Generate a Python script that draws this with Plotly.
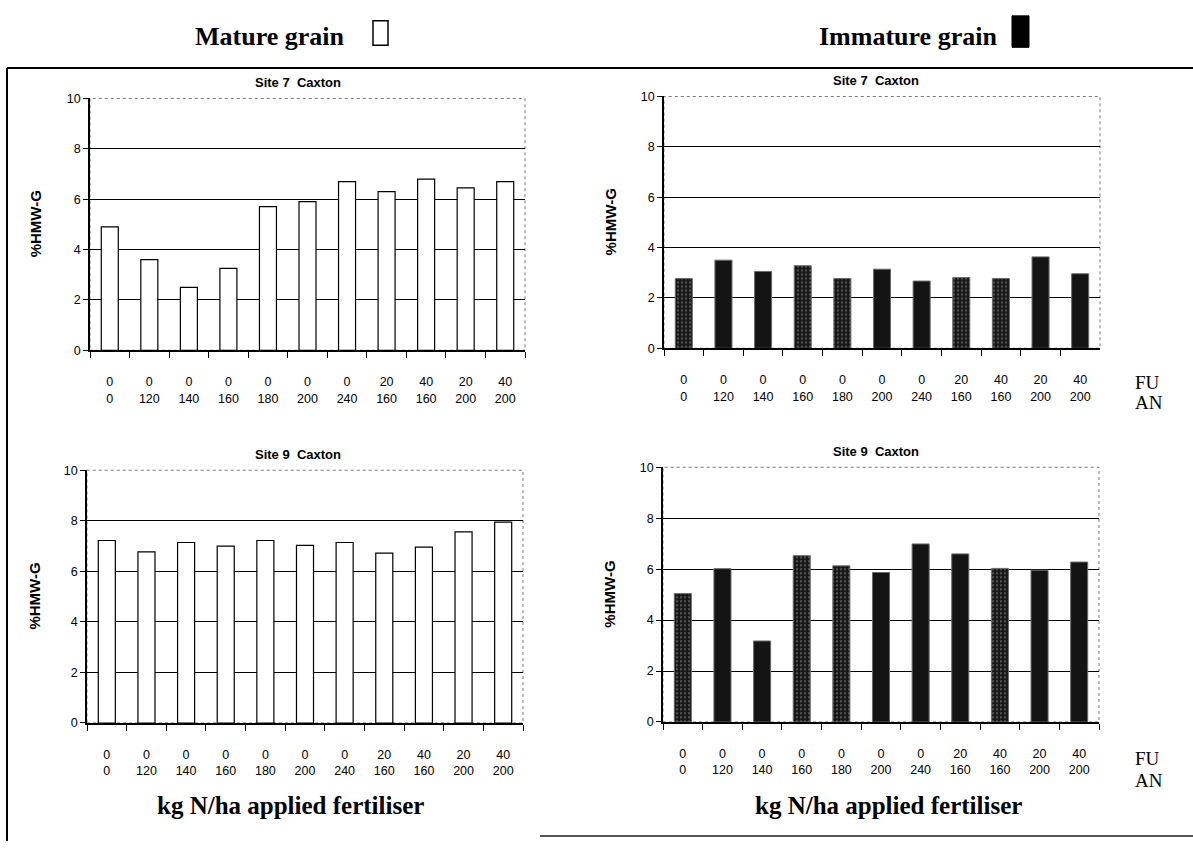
import plotly.graph_objects as go

# ---------------- data ----------------
FU = ["0", "0", "0", "0", "0", "0", "0", "20", "40", "20", "40"]
AN = ["0", "120", "140", "160", "180", "200", "240", "160", "160", "200", "200"]
CATS = [f"{f}/{a}" for f, a in zip(FU, AN)]

MATURE_SITE7 = [4.9, 3.6, 2.5, 3.25, 5.7, 5.9, 6.7, 6.3, 6.8, 6.45, 6.7]
IMMATURE_SITE7 = [2.77, 3.5, 3.05, 3.28, 2.77, 3.14, 2.67, 2.81, 2.77, 3.63, 2.96]
MATURE_SITE9 = [7.22, 6.77, 7.14, 7.0, 7.22, 7.03, 7.14, 6.72, 6.96, 7.56, 7.95]
IMMATURE_SITE9 = [5.04, 6.02, 3.18, 6.53, 6.13, 5.87, 6.99, 6.6, 6.03, 5.96, 6.28]

Y_TICKS = [0, 2, 4, 6, 8, 10]
GRID_VALS = [2, 4, 6, 8]

# speckled (grey) vs solid black appearance of the immature bars
SPECKLE_SITE7 = [True, False, False, True, True, False, False, True, True, False, False]
SPECKLE_SITE9 = [True, False, False, True, True, False, False, False, True, False, False]

W, H = 1193, 848
SANS = "Liberation Sans, Arial, sans-serif"
SERIF = "Liberation Serif, Times New Roman, serif"


def px(x):
    return x / W


def py(y):
    return 1 - y / H


# panel boxes in pixels: left, right, top, bottom
PANELS = {
    1: (90, 525, 93, 349),
    2: (664, 1100, 91, 347),
    3: (87, 523, 471, 728),
    4: (663, 1099, 468, 727),
}
TITLE_X = {1: 298, 2: 876, 3: 298, 4: 876}

fig = go.Figure()

panel_defs = [
    (1, MATURE_SITE7, False, None, "Site 7  Caxton"),
    (2, IMMATURE_SITE7, True, SPECKLE_SITE7, "Site 7  Caxton"),
    (3, MATURE_SITE9, False, None, "Site 9  Caxton"),
    (4, IMMATURE_SITE9, True, SPECKLE_SITE9, "Site 9  Caxton"),
]

annotations = []
shapes = []
TICKFONT = dict(family=SANS, size=12.5, color="black")

for idx, vals, immature, speck, title in panel_defs:
    xa = "x" if idx == 1 else f"x{idx}"
    ya = "y" if idx == 1 else f"y{idx}"
    ov = f"x{idx + 4}"
    if immature:
        marker = dict(
            color="#141414",
            line=dict(color="#6a6a6a", width=1),
            pattern=dict(
                shape=["." if s else "" for s in speck],
                fgcolor="#8c8c8c",
                bgcolor="#141414",
                size=4,
                solidity=0.3,
            ),
        )
    else:
        marker = dict(color="white", line=dict(color="black", width=1.2))
    fig.add_trace(go.Bar(x=CATS, y=vals, xaxis=xa, yaxis=ya, marker=marker,
                         showlegend=False, hoverinfo="skip"))
    # invisible trace carrying the second row (AN) of tick labels
    fig.add_trace(go.Scatter(x=CATS, y=vals, xaxis=ov, yaxis=ya, mode="none",
                             showlegend=False, hoverinfo="skip"))

    l, r, t, b = PANELS[idx]
    xkey = "xaxis" if idx == 1 else f"xaxis{idx}"
    ykey = "yaxis" if idx == 1 else f"yaxis{idx}"
    fig.update_layout({
        xkey: dict(
            domain=[px(l), px(r)], anchor=ya, type="category",
            categoryorder="array", categoryarray=CATS,
            range=[-0.5, len(CATS) - 0.5],
            tickvals=CATS, ticktext=FU, tickson="boundaries",
            ticks="outside", ticklen=6, tickcolor="black", tickwidth=1,
            showline=True, linecolor="black", linewidth=1.5,
            showgrid=False, zeroline=False,
            tickfont=TICKFONT, ticklabelstandoff=19,
        ),
        f"xaxis{idx + 4}": dict(
            overlaying=xa, anchor=ya, side="bottom", type="category",
            categoryorder="array", categoryarray=CATS,
            range=[-0.5, len(CATS) - 0.5],
            tickvals=CATS, ticktext=AN, ticks="", showline=False,
            showgrid=False, zeroline=False,
            tickfont=TICKFONT, ticklabelstandoff=39,
        ),
        ykey: dict(
            domain=[py(b), py(t)], anchor=xa, range=[0, 10],
            tickvals=Y_TICKS, ticks="outside", ticklen=5, tickcolor="black",
            showline=True, linecolor="black", linewidth=1.5,
            showgrid=False, zeroline=False,
            minor=dict(tickmode="array", tickvals=GRID_VALS, showgrid=True,
                       gridcolor="black", gridwidth=1, ticks=""),
            tickfont=TICKFONT,
        ),
    })
    # dotted plot-area border (top & right)
    shapes.append(dict(type="rect", xref=f"{xa} domain", yref=f"{ya} domain",
                       x0=0, x1=1, y0=0, y1=1, layer="below",
                       line=dict(color="#7a7a7a", width=1, dash="dot")))
    # panel title
    annotations.append(dict(text=f"<b>{title}</b>", x=px(TITLE_X[idx]),
                            y=py(t - 16), xref="paper", yref="paper",
                            showarrow=False, xanchor="center", yanchor="middle",
                            font=dict(family=SANS, size=13, color="black")))
    # y axis title
    ytx = 35 if idx in (1, 3) else 610
    annotations.append(dict(text="<b>%HMW-G</b>", x=px(ytx), y=py((t + b) / 2),
                            xref="paper", yref="paper", showarrow=False,
                            textangle=-90, xanchor="center", yanchor="middle",
                            font=dict(family=SANS, size=15, color="black")))

# FU / AN row labels on the right
for yy_fu, yy_an in ((382, 402), (764, 786)):
    annotations.append(dict(text="FU", x=px(1133), y=py(yy_fu), xref="paper",
                            yref="paper", showarrow=False, xanchor="left",
                            yanchor="middle",
                            font=dict(family=SERIF, size=19, color="black")))
    annotations.append(dict(text="AN", x=px(1133), y=py(yy_an), xref="paper",
                            yref="paper", showarrow=False, xanchor="left",
                            yanchor="middle",
                            font=dict(family=SERIF, size=19, color="black")))

# bottom axis captions
for cx in (290, 888):
    annotations.append(dict(text="<b>kg N/ha applied fertiliser</b>", x=px(cx),
                            y=py(812), xref="paper", yref="paper",
                            showarrow=False, xanchor="center", yanchor="middle",
                            font=dict(family=SERIF, size=25, color="black")))

# header legend texts
annotations.append(dict(text="<b>Mature grain</b>", x=px(270), y=py(30),
                        xref="paper", yref="paper", showarrow=False,
                        xanchor="center", yanchor="middle",
                        font=dict(family=SERIF, size=26, color="black")))
annotations.append(dict(text="<b>Immature grain</b>", x=px(908), y=py(30),
                        xref="paper", yref="paper", showarrow=False,
                        xanchor="center", yanchor="middle",
                        font=dict(family=SERIF, size=26, color="black")))

# header legend boxes
shapes.append(dict(type="rect", xref="paper", yref="paper",
                   x0=px(373), x1=px(388), y0=py(39), y1=py(14),
                   line=dict(color="black", width=1.5), fillcolor="white"))
shapes.append(dict(type="rect", xref="paper", yref="paper",
                   x0=px(1012), x1=px(1029), y0=py(41), y1=py(9),
                   line=dict(color="black", width=1), fillcolor="black"))

# outer frame (top, left, partial bottom)
shapes.append(dict(type="line", xref="paper", yref="paper",
                   x0=px(7), x1=px(1193), y0=py(62), y1=py(62),
                   line=dict(color="black", width=2)))
shapes.append(dict(type="line", xref="paper", yref="paper",
                   x0=px(7), x1=px(7), y0=py(62), y1=py(848),
                   line=dict(color="black", width=2)))
shapes.append(dict(type="line", xref="paper", yref="paper",
                   x0=px(540), x1=px(1193), y0=py(843), y1=py(843),
                   line=dict(color="#555555", width=2)))

fig.update_layout(
    width=W, height=H, margin=dict(l=0, r=0, t=0, b=0),
    paper_bgcolor="white", plot_bgcolor="white",
    barmode="group", bargap=0.57,
    annotations=annotations, shapes=shapes,
    font=dict(family=SANS, color="black"),
)

fig.write_html("out.html")
